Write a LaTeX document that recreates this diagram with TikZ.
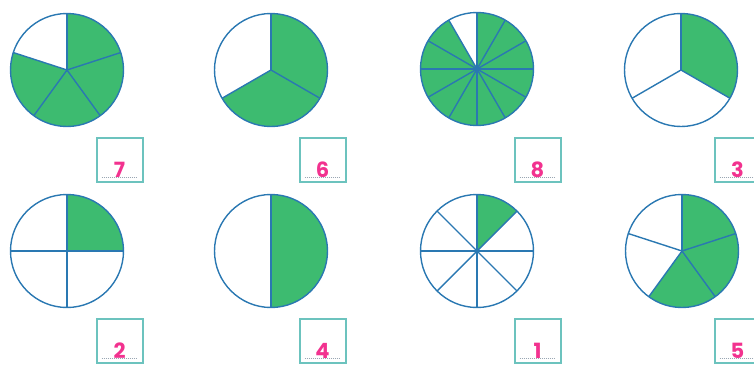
\documentclass[tikz,border=0pt]{standalone}
\usepackage{fontspec}
\newfontfamily\digitfont{Poppins}
\usetikzlibrary{calc}
\definecolor{PieGreen}{HTML}{3DBB70}
\definecolor{PieBlue}{HTML}{2A78B2}
\definecolor{BoxTeal}{HTML}{6CC3BE}
\definecolor{DigitPink}{HTML}{F2328F}
\definecolor{DotGrey}{HTML}{9AA7B3}

\begin{document}
\begin{tikzpicture}[x=1pt,y=1pt,
  pieline/.style={PieBlue,line width=1.4pt},
  answerbox/.style={draw=BoxTeal,line width=2pt,minimum width=46pt,minimum height=44pt,inner sep=0pt},
  digit/.style={DigitPink,font=\digitfont\bfseries\fontsize{21}{21}\selectfont,inner sep=0pt,anchor=base},
  dotline/.style={DotGrey,densely dotted,line width=1pt}]
  \clip (0,0) rectangle (754,365);
  % pies: name / centre / slices / green arc from / to
  \foreach \i/\pos/\n/\from/\to in {1/{67,295}/5/-198/90, 2/{271,295}/3/-150/90,
      3/{477,296}/12/-240/90, 4/{681,295}/3/-30/90, 5/{67,114}/4/0/90,
      6/{271,114}/2/-90/90, 7/{477,114}/8/45/90, 8/{682,114}/5/-126/90} {
    \coordinate (p\i) at (\pos);
    \fill[PieGreen] (p\i) -- ++(\from:56.5) arc[start angle=\from,end angle=\to,radius=56.5] -- cycle;
    \foreach \k in {1,...,\n}
      \draw[pieline] (p\i) -- ++({90+360*\k/\n}:56.5);
    \draw[pieline] (p\i) circle (56.5);
  }
  \fill[PieBlue] (p3) circle (2.2pt);
  % answer boxes
  \foreach \i/\pos/\d in {1/{119.5,205}/7, 2/{322.5,205}/6, 3/{537.5,205}/8, 4/{737.5,205}/3,
      5/{119.5,24}/2, 6/{322.5,24}/4, 7/{537.5,24}/1, 8/{737.5,24}/5} {
    \node[answerbox] (b\i) at (\pos) {};
    \draw[dotline] ([shift={(6,6)}]b\i.south west) -- ([shift={(-6,6)}]b\i.south east);
    \node[digit] (d\i) at ([yshift=6]b\i.south) {\d};
  }
\end{tikzpicture}
\end{document}
